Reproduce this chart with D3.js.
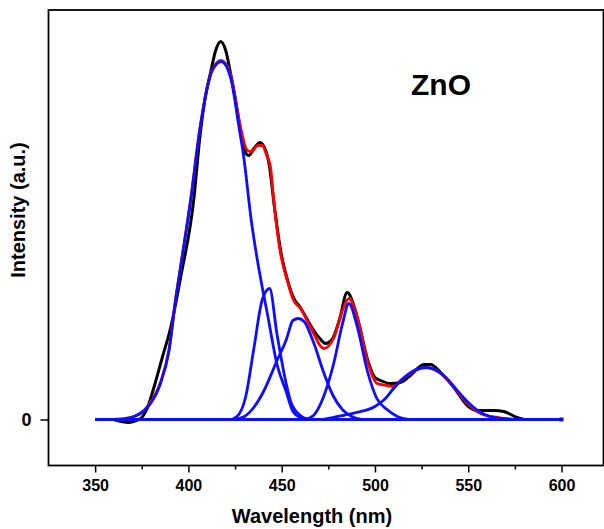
<!DOCTYPE html>
<html>
<head>
<meta charset="utf-8">
<script src="https://cdn.jsdelivr.net/npm/d3@7"></script>
<style>
  body { margin: 0; background: #fff; }
  text { font-family: "Liberation Sans", Arial, sans-serif; font-weight: bold; }
</style>
</head>
<body>
<div id="chart-container"></div>
<script>
// PL spectrum of ZnO with gaussian deconvolution
// values are [wavelength (nm), intensity (a.u.)]

const measured = [
  [360, 0], [364, -2], [368, -3], [372, -1], [375, 2], [378.5, 14], [381.5, 32],
  [386, 62], [390.5, 92], [395.8, 142], [403, 222], [406, 280], [409, 322],
  [412, 348], [414.6, 369], [417.3, 378], [420, 369], [422.6, 346], [425.3, 319],
  [428, 289], [430.6, 267], [432.4, 264], [435.1, 271], [438.3, 277], [441.4, 269],
  [443.2, 256], [446, 214], [449.5, 168], [453, 140], [456.5, 121], [460, 112],
  [465.5, 94], [470, 82], [473.5, 76], [477, 80], [481, 100], [485.1, 127],
  [489, 112], [491.5, 95], [496, 60], [500, 42], [503, 39], [508.4, 36],
  [513.7, 37], [519, 44], [526.2, 55], [529.8, 55], [535.2, 47], [542.3, 32],
  [549.5, 14], [554.8, 9], [563.7, 9], [569, 8], [576.2, 2], [580, 0]
];

const fitSum = [
  [360, 0], [369, 2], [378, 13], [385, 37], [389.6, 70], [393.1, 120], [395.8, 153],
  [401.2, 220], [406.3, 293], [412.8, 350], [417.6, 359], [422.6, 345], [427.5, 296],
  [431.6, 269], [434, 268], [437, 274], [439.6, 274], [442, 264], [444, 252],
  [445.9, 216], [449.4, 166], [453, 139], [456.4, 119], [460.1, 111], [465.5, 92],
  [472.6, 71], [478, 82], [482.5, 109], [486, 121], [490.5, 102], [495.9, 59],
  [501.2, 36], [506.6, 34], [510, 33], [513.7, 39], [517.3, 44], [524.4, 51],
  [528, 52], [535.2, 46], [542.3, 32], [549.5, 16], [556.6, 6], [565.5, 2],
  [572, 0.5], [580, 0]
];

const peak417 = [
  [350, 0], [360, 0], [369, 2], [378, 12], [385, 36], [389.6, 69], [393.1, 119],
  [395.8, 152], [401.2, 219], [406.3, 292], [412.8, 349], [417.6, 358], [422.6, 342],
  [427.4, 289], [429.4, 266], [433.7, 199], [437, 159], [439.6, 132], [442.5, 104],
  [447.5, 55], [452.4, 28], [456, 8], [460, 2], [465, 0], [600, 0]
];

const peak443 = [
  [350, 0], [422, 0], [426, 3], [430.6, 22], [435, 70], [439.6, 120], [443.5, 131],
  [447.5, 85], [452.5, 35], [455, 17], [460, 4], [465, 0], [600, 0]
];

const peak459 = [
  [350, 0], [424, 0], [430, 3], [435, 12], [440, 27], [447.5, 59], [452.5, 80],
  [456, 99], [459, 101], [462, 98], [467.3, 76], [472.5, 47], [477.5, 24],
  [482.5, 10], [487.5, 3], [493, 0], [600, 0]
];

const peak486 = [
  [350, 0], [462, 0], [467, 4], [472.5, 23], [478, 57], [482.5, 95], [486, 116],
  [490.5, 93], [496, 48], [501, 21], [506.5, 10], [512, 3], [518, 0], [600, 0]
];

const peak528 = [
  [350, 0], [470, 0], [480, 3], [490, 7], [500, 13], [505, 20], [510, 31], [515, 41],
  [520, 48], [527, 52], [532, 50], [538, 42], [545, 27], [550, 17], [555, 9],
  [560, 4], [565, 1.5], [570, 0.5], [575, 0], [600, 0]
];

const baseline = [[350, 0], [600, 0]];

const xMajorTicks = [350, 400, 450, 500, 550, 600];
const xMinorTicks = [375, 425, 475, 525, 575];
const yTicks = [0];

// Set up svg
const svgWidth = 604;
const svgHeight = 529;
const plot = {left: 48.5, top: 10, right: 603.5, bottom: 465.5};

const svg = d3.select('#chart-container')
  .append('svg')
  .attr('width', svgWidth)
  .attr('height', svgHeight);

// Scales
const xScale = d3.scaleLinear()
  .domain([325, 622.5])
  .range([plot.left, plot.right]);

const yScale = d3.scaleLinear()
  .domain([-46, 409.5])
  .range([plot.bottom, plot.top]);

const line = d3.line()
  .x(d => xScale(d[0]))
  .y(d => yScale(d[1]))
  .curve(d3.curveMonotoneX);

// Curves: data, fitted sum, then components on top
svg.append('path')
  .datum(baseline)
  .attr('d', line)
  .attr('fill', 'none')
  .attr('stroke', '#1f8f8f')
  .attr('stroke-width', 3.2);

svg.append('path')
  .datum(measured)
  .attr('d', line)
  .attr('fill', 'none')
  .attr('stroke', '#000')
  .attr('stroke-width', 3)
  .attr('stroke-linejoin', 'round');

svg.append('path')
  .datum(fitSum)
  .attr('d', line)
  .attr('fill', 'none')
  .attr('stroke', '#ff0000')
  .attr('stroke-width', 2.8)
  .attr('stroke-linejoin', 'round');

const peaks = [peak417, peak443, peak459, peak486, peak528];
svg.selectAll('.peak')
  .data(peaks)
  .enter()
  .append('path')
  .attr('class', 'peak')
  .attr('d', line)
  .attr('fill', 'none')
  .attr('stroke', '#0d0dff')
  .attr('stroke-width', 2.8)
  .attr('stroke-linejoin', 'round');

// end marker of the baseline
svg.append('rect')
  .attr('x', xScale(baseline[1][0]) - 2)
  .attr('y', yScale(baseline[1][1]) - 2)
  .attr('width', 4)
  .attr('height', 4)
  .attr('fill', '#1010c0');

// Axes
svg.append('g')
  .attr('transform', `translate(0,${plot.bottom})`)
  .call(d3.axisBottom(xScale).tickValues(xMajorTicks).tickSize(7).tickPadding(7))
  .call(g => g.select('.domain').remove())
  .call(g => g.selectAll('line').attr('stroke-width', 1.5))
  .call(g => g.selectAll('text').style('font-size', '16px').attr('fill', '#000'));

svg.append('g')
  .attr('transform', `translate(0,${plot.bottom})`)
  .call(d3.axisBottom(xScale).tickValues(xMinorTicks).tickSize(4).tickFormat(''))
  .call(g => g.select('.domain').remove())
  .call(g => g.selectAll('line').attr('stroke-width', 1.5));

svg.append('g')
  .attr('transform', `translate(${plot.left},0)`)
  .call(d3.axisLeft(yScale).tickValues(yTicks).tickSize(8).tickPadding(9))
  .call(g => g.select('.domain').remove())
  .call(g => g.selectAll('line').attr('stroke-width', 1.5))
  .call(g => g.selectAll('text').style('font-size', '18px').attr('fill', '#000'));

// frame
svg.append('rect')
  .attr('x', plot.left)
  .attr('y', plot.top)
  .attr('width', plot.right - plot.left)
  .attr('height', plot.bottom - plot.top)
  .attr('fill', 'none')
  .attr('stroke', '#000')
  .attr('stroke-width', 1.8);

// Labels
svg.append('text')
  .attr('x', 312)
  .attr('y', 523)
  .attr('text-anchor', 'middle')
  .style('font-size', '20px')
  .text('Wavelength (nm)');

svg.append('text')
  .attr('transform', 'translate(25,210) rotate(-90)')
  .attr('text-anchor', 'middle')
  .style('font-size', '20px')
  .text('Intensity (a.u.)');

svg.append('text')
  .attr('x', 411)
  .attr('y', 95)
  .style('font-size', '30px')
  .text('ZnO');
</script>
</body>
</html>
